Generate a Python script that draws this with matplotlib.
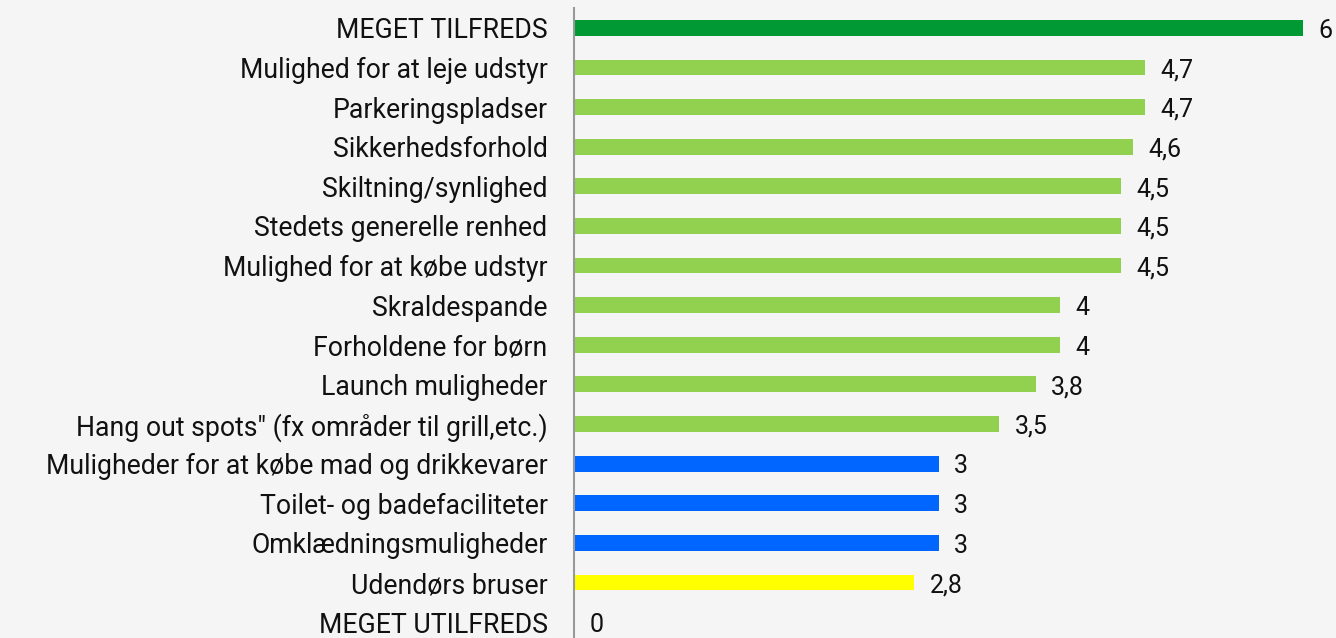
import matplotlib
matplotlib.use("Agg")
import matplotlib.pyplot as plt

categories = [
    "MEGET TILFREDS",
    "Mulighed for at leje udstyr",
    "Parkeringspladser",
    "Sikkerhedsforhold",
    "Skiltning/synlighed",
    "Stedets generelle renhed",
    "Mulighed for at købe udstyr",
    "Skraldespande",
    "Forholdene for børn",
    "Launch muligheder",
    "Hang out spots\" (fx områder til grill,etc.)",
    "Muligheder for at købe mad og drikkevarer",
    "Toilet- og badefaciliteter",
    "Omklædningsmuligheder",
    "Udendørs bruser",
    "MEGET UTILFREDS",
]
values = [6, 4.7, 4.7, 4.6, 4.5, 4.5, 4.5, 4, 4, 3.8, 3.5, 3, 3, 3, 2.8, 0]

dark_green = "#009933"
light_green = "#92d050"
blue = "#0066ff"
yellow = "#ffff00"
colors = [dark_green] + [light_green] * 10 + [blue] * 3 + [yellow, dark_green]

plt.rcParams['font.family'] = ['Roboto', 'DejaVu Sans']

bg = "#f5f5f5"
fig = plt.figure(figsize=(13.36, 6.38), dpi=100, facecolor=bg)
ax = fig.add_axes([574 / 1336, 0, 1 - 574 / 1336, 1 - 8 / 638])
ax.set_facecolor(bg)

y = list(range(len(categories)))
ax.barh(y, values, height=0.4, color=colors)

for yi, v in zip(y, values):
    txt = f"{v:g}".replace(".", ",")
    ax.annotate(txt, (v, yi), xytext=(11, -2), textcoords="offset points",
                va="center", ha="left", fontsize=18, color="#111111")

ax.set_xlim(0, (1336 - 574) / 121.5)
ax.set_ylim(15.4, -0.5)
ax.set_yticks(y)
ax.set_yticklabels(categories, fontsize=19.2, color="#111111")
ax.tick_params(axis="y", length=0, pad=19)
ax.set_xticks([])

for s in ["top", "right", "bottom"]:
    ax.spines[s].set_visible(False)
ax.spines["left"].set_color("#999999")
ax.spines["left"].set_linewidth(1.5)

fig.savefig("out.png", dpi=100, facecolor=bg)
